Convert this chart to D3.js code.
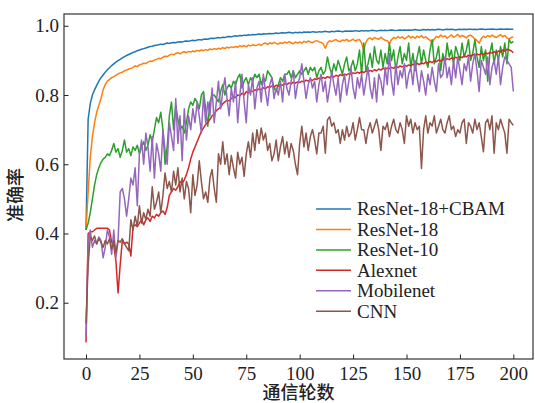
<!DOCTYPE html>
<html><head><meta charset="utf-8">
<script src="https://cdn.jsdelivr.net/npm/d3@7"></script>
<style>body{margin:0;background:#fff}svg{display:block}</style>
</head><body>
<script>
const epochs = d3.range(0, 201);
const seriesNames = ["ResNet-18+CBAM","ResNet-18","ResNet-10","Alexnet","Mobilenet","CNN"];
const seriesColors = ["#1f77b4","#ff7f0e","#2ca02c","#d62728","#9467bd","#8c564b"];
const xTicks = [0,25,50,75,100,125,150,175,200];
const yTicks = [0.2,0.4,0.6,0.8,1.0];

const cbam = [
0.41,0.73,0.775,0.80,0.815,0.828,0.84,0.85,0.858,0.866,
0.873,0.879,0.885,0.89,0.895,0.899,0.903,0.907,0.911,0.914,
0.917,0.920,0.923,0.925,0.928,0.930,0.932,0.934,0.936,0.938,
0.940,0.941,0.943,0.944,0.945,0.947,0.946,0.948,0.950,0.949,
0.951,0.952,0.951,0.953,0.954,0.953,0.955,0.956,0.955,0.957,
0.958,0.957,0.959,0.960,0.959,0.961,0.962,0.961,0.963,0.964,
0.963,0.965,0.966,0.965,0.967,0.966,0.968,0.969,0.968,0.970,
0.971,0.970,0.972,0.971,0.973,0.972,0.974,0.973,0.975,0.974,
0.975,0.976,0.975,0.977,0.976,0.977,0.978,0.977,0.978,0.979,
0.978,0.979,0.980,0.979,0.980,0.981,0.980,0.979,0.981,0.980,
0.981,0.980,0.982,0.981,0.982,0.981,0.983,0.982,0.981,0.983,
0.982,0.983,0.984,0.983,0.982,0.984,0.983,0.984,0.985,0.984,
0.983,0.984,0.985,0.984,0.985,0.984,0.986,0.985,0.984,0.986,
0.985,0.986,0.985,0.986,0.987,0.986,0.985,0.986,0.987,0.986,
0.987,0.986,0.987,0.988,0.987,0.986,0.987,0.988,0.987,0.988,
0.987,0.988,0.987,0.988,0.989,0.988,0.987,0.988,0.989,0.988,
0.989,0.988,0.989,0.988,0.989,0.990,0.989,0.988,0.989,0.990,
0.989,0.990,0.989,0.988,0.989,0.990,0.989,0.990,0.989,0.990,
0.990,0.989,0.990,0.989,0.990,0.991,0.990,0.989,0.990,0.990,
0.991,0.990,0.989,0.990,0.991,0.990,0.990,0.991,0.990,0.990,
0.990];

const resnet18 = [
0.41,0.52,0.62,0.68,0.72,0.75,0.77,0.79,0.815,0.83,
0.84,0.845,0.85,0.853,0.857,0.861,0.864,0.866,0.87,0.872,
0.875,0.877,0.88,0.884,0.882,0.887,0.889,0.892,0.891,0.895,
0.898,0.897,0.901,0.903,0.906,0.905,0.909,0.912,0.911,0.915,
0.918,0.916,0.92,0.922,0.919,0.923,0.925,0.922,0.926,0.924,
0.927,0.925,0.929,0.927,0.93,0.928,0.931,0.929,0.933,0.931,
0.934,0.932,0.935,0.933,0.937,0.934,0.938,0.936,0.939,0.937,
0.940,0.938,0.942,0.94,0.943,0.939,0.944,0.942,0.945,0.943,
0.944,0.947,0.943,0.948,0.950,0.946,0.951,0.948,0.952,0.949,
0.947,0.951,0.949,0.953,0.950,0.954,0.951,0.948,0.953,0.950,
0.953,0.950,0.955,0.952,0.956,0.953,0.951,0.955,0.957,0.954,
0.952,0.948,0.935,0.950,0.957,0.954,0.958,0.960,0.956,0.954,
0.959,0.957,0.961,0.955,0.958,0.961,0.956,0.959,0.960,0.950,
0.929,0.952,0.962,0.965,0.960,0.966,0.963,0.961,0.967,0.962,
0.958,0.957,0.948,0.960,0.966,0.963,0.969,0.964,0.968,0.962,
0.966,0.971,0.965,0.969,0.964,0.970,0.966,0.972,0.965,0.968,
0.963,0.958,0.950,0.962,0.969,0.966,0.973,0.968,0.971,0.964,
0.969,0.974,0.967,0.970,0.975,0.968,0.972,0.969,0.965,0.971,
0.973,0.968,0.962,0.957,0.950,0.963,0.970,0.966,0.972,0.968,
0.973,0.969,0.966,0.971,0.974,0.968,0.972,0.965,0.962,0.966,
0.968];

const resnet10 = [
0.41,0.43,0.46,0.50,0.54,0.57,0.59,0.605,0.615,0.62,
0.63,0.625,0.64,0.66,0.635,0.645,0.62,0.64,0.67,0.635,
0.645,0.625,0.65,0.64,0.655,0.63,0.65,0.665,0.64,0.655,
0.685,0.665,0.70,0.735,0.72,0.75,0.70,0.60,0.65,0.74,
0.78,0.70,0.77,0.73,0.70,0.71,0.69,0.72,0.76,0.78,
0.77,0.79,0.78,0.76,0.80,0.81,0.76,0.71,0.78,0.80,
0.80,0.79,0.78,0.81,0.83,0.80,0.82,0.83,0.82,0.84,
0.83,0.85,0.86,0.82,0.84,0.85,0.83,0.85,0.84,0.86,
0.85,0.86,0.83,0.85,0.84,0.87,0.86,0.85,0.82,0.81,
0.83,0.85,0.84,0.86,0.86,0.87,0.85,0.87,0.85,0.86,
0.87,0.86,0.87,0.88,0.86,0.88,0.87,0.88,0.85,0.87,
0.88,0.86,0.87,0.91,0.88,0.86,0.89,0.87,0.90,0.88,
0.86,0.89,0.91,0.87,0.88,0.90,0.87,0.89,0.93,0.86,
0.95,0.87,0.89,0.92,0.88,0.94,0.90,0.89,0.93,0.88,
0.92,0.89,0.95,0.90,0.93,0.87,0.91,0.94,0.89,0.92,
0.90,0.95,0.88,0.92,0.87,0.91,0.94,0.89,0.93,0.90,
0.88,0.93,0.96,0.89,0.91,0.94,0.87,0.92,0.89,0.95,
0.91,0.93,0.89,0.94,0.92,0.90,0.95,0.91,0.93,0.96,
0.90,0.92,0.96,0.91,0.88,0.94,0.90,0.93,0.84,0.92,
0.95,0.89,0.93,0.90,0.94,0.91,0.95,0.89,0.96,0.95,
0.955];

const alexnet = [
0.085,0.40,0.405,0.405,0.41,0.415,0.415,0.415,0.415,0.415,
0.415,0.41,0.375,0.365,0.32,0.228,0.31,0.38,0.37,0.375,
0.37,0.335,0.42,0.425,0.42,0.43,0.44,0.425,0.44,0.445,
0.435,0.45,0.445,0.455,0.45,0.46,0.465,0.455,0.475,0.51,
0.52,0.53,0.525,0.535,0.55,0.545,0.555,0.57,0.59,0.615,
0.635,0.65,0.665,0.68,0.695,0.705,0.715,0.72,0.73,0.74,
0.745,0.755,0.76,0.765,0.775,0.78,0.785,0.783,0.79,0.795,
0.793,0.80,0.798,0.805,0.80,0.81,0.806,0.812,0.81,0.815,
0.813,0.818,0.815,0.821,0.818,0.824,0.822,0.826,0.823,0.828,
0.826,0.83,0.828,0.833,0.83,0.835,0.832,0.837,0.834,0.838,
0.836,0.84,0.838,0.843,0.84,0.845,0.842,0.847,0.845,0.849,
0.846,0.851,0.848,0.853,0.85,0.855,0.852,0.857,0.854,0.859,
0.856,0.86,0.858,0.862,0.86,0.864,0.862,0.866,0.863,0.868,
0.865,0.869,0.867,0.871,0.868,0.873,0.87,0.875,0.872,0.877,
0.874,0.878,0.876,0.88,0.877,0.882,0.879,0.884,0.881,0.885,
0.883,0.887,0.884,0.889,0.886,0.891,0.888,0.893,0.89,0.895,
0.892,0.897,0.894,0.899,0.896,0.901,0.898,0.903,0.9,0.905,
0.902,0.907,0.904,0.909,0.906,0.911,0.908,0.913,0.91,0.915,
0.912,0.917,0.914,0.918,0.916,0.92,0.917,0.922,0.919,0.923,
0.921,0.925,0.922,0.927,0.924,0.93,0.927,0.932,0.93,0.928,
0.922];

const mobilenet = [
0.10,0.37,0.41,0.36,0.38,0.37,0.39,0.38,0.33,0.36,
0.41,0.39,0.34,0.41,0.33,0.38,0.52,0.53,0.50,0.45,
0.50,0.56,0.54,0.59,0.48,0.63,0.67,0.60,0.69,0.65,
0.58,0.68,0.56,0.66,0.63,0.58,0.70,0.64,0.60,0.72,
0.68,0.64,0.79,0.66,0.74,0.61,0.76,0.67,0.74,0.70,
0.76,0.72,0.78,0.74,0.69,0.80,0.72,0.78,0.74,0.82,
0.72,0.78,0.84,0.76,0.81,0.85,0.79,0.74,0.82,0.78,
0.84,0.72,0.80,0.86,0.78,0.72,0.83,0.80,0.85,0.76,
0.82,0.84,0.78,0.86,0.81,0.77,0.83,0.85,0.79,0.82,
0.80,0.84,0.78,0.86,0.82,0.80,0.84,0.87,0.79,0.83,
0.85,0.89,0.84,0.79,0.83,0.85,0.82,0.84,0.78,0.83,
0.86,0.81,0.84,0.78,0.82,0.87,0.83,0.80,0.85,0.78,
0.83,0.86,0.80,0.84,0.88,0.82,0.79,0.85,0.82,0.86,
0.80,0.84,0.88,0.82,0.79,0.85,0.78,0.86,0.84,0.80,
0.88,0.83,0.92,0.84,0.80,0.89,0.83,0.87,0.85,0.89,
0.82,0.86,0.88,0.83,0.90,0.85,0.81,0.87,0.84,0.80,
0.86,0.83,0.88,0.84,0.81,0.89,0.85,0.86,0.91,0.85,
0.88,0.83,0.90,0.85,0.91,0.87,0.83,0.89,0.87,0.91,
0.84,0.89,0.92,0.87,0.81,0.90,0.88,0.86,0.91,0.83,
0.88,0.90,0.86,0.91,0.83,0.88,0.91,0.90,0.89,0.88,
0.81];

const cnn = [
0.14,0.31,0.39,0.38,0.393,0.37,0.385,0.375,0.36,0.38,
0.37,0.385,0.355,0.38,0.345,0.38,0.375,0.385,0.37,0.36,
0.35,0.44,0.41,0.45,0.42,0.48,0.43,0.46,0.44,0.47,
0.45,0.535,0.47,0.49,0.52,0.46,0.51,0.575,0.53,0.55,
0.52,0.58,0.54,0.59,0.52,0.56,0.50,0.55,0.53,0.46,
0.57,0.51,0.54,0.61,0.55,0.50,0.52,0.49,0.56,0.585,
0.53,0.49,0.63,0.60,0.665,0.60,0.63,0.57,0.625,0.59,
0.56,0.635,0.60,0.62,0.565,0.63,0.665,0.62,0.69,0.64,
0.70,0.66,0.705,0.67,0.69,0.64,0.66,0.61,0.63,0.67,
0.61,0.65,0.68,0.63,0.665,0.62,0.66,0.64,0.60,0.57,
0.66,0.71,0.65,0.69,0.64,0.68,0.70,0.67,0.63,0.69,
0.69,0.71,0.632,0.728,0.737,0.71,0.72,0.69,0.70,0.66,
0.70,0.67,0.71,0.68,0.69,0.72,0.67,0.70,0.735,0.70,
0.70,0.66,0.70,0.72,0.69,0.71,0.73,0.70,0.64,0.71,
0.70,0.72,0.68,0.71,0.73,0.70,0.69,0.72,0.70,0.66,
0.74,0.71,0.73,0.69,0.72,0.70,0.71,0.588,0.70,0.74,
0.69,0.72,0.71,0.74,0.69,0.71,0.73,0.70,0.69,0.72,
0.74,0.70,0.71,0.68,0.70,0.69,0.72,0.73,0.66,0.72,
0.71,0.69,0.73,0.70,0.72,0.68,0.636,0.72,0.73,0.70,
0.74,0.632,0.72,0.70,0.73,0.71,0.69,0.632,0.73,0.72,
0.713];

const seriesValues = [cbam, resnet18, resnet10, alexnet, mobilenet, cnn];

const W = 535, H = 403;
const L = 64, T = 14, R = 533, B = 359;
const svg = d3.select("body").append("svg").attr("width", W).attr("height", H);

const x = d3.scaleLinear().domain([-10.3, 209.2]).range([L, R]);
const y = d3.scaleLinear().domain([0.0375, 1.034]).range([B, T]);

const serif = "'Liberation Serif','Times New Roman',serif";

svg.append("defs").append("clipPath").attr("id","clip")
  .append("rect").attr("x", L).attr("y", T).attr("width", R-L).attr("height", B-T);

const line = d3.line().x((d,i)=>x(epochs[i])).y(d=>y(d));
const g = svg.append("g").attr("clip-path","url(#clip)");
seriesValues.forEach((vals, k) => {
  g.append("path").datum(vals).attr("d", line)
    .attr("fill","none").attr("stroke", seriesColors[k])
    .attr("stroke-width", 1.5).attr("stroke-linejoin","round");
});

const xAxis = svg.append("g").attr("transform", `translate(0,${B})`)
  .call(d3.axisBottom(x).tickValues(xTicks).tickSize(-4.5).tickPadding(8).tickFormat(d3.format("d")));
const yAxis = svg.append("g").attr("transform", `translate(${L},0)`)
  .call(d3.axisLeft(y).tickValues(yTicks).tickSize(-4.5).tickPadding(5).tickFormat(d3.format(".1f")));
[xAxis, yAxis].forEach(a => {
  a.select(".domain").remove();
  a.selectAll("line").attr("stroke","#222").attr("stroke-width",1);
  a.selectAll("text").attr("font-family", serif).attr("font-size", 19).attr("fill","#222");
});

svg.append("rect").attr("x", L).attr("y", T).attr("width", R-L).attr("height", B-T)
  .attr("fill","none").attr("stroke","#333").attr("stroke-width",1.2);

// legend
const legY = [209, 229.5, 250, 270.3, 290.7, 311.2];
seriesNames.forEach((name, k) => {
  svg.append("line").attr("x1", 316).attr("x2", 351).attr("y1", legY[k]).attr("y2", legY[k])
    .attr("stroke", seriesColors[k]).attr("stroke-width", 1.5);
  svg.append("text").attr("x", 357).attr("y", legY[k]).attr("dy", "0.34em")
    .attr("font-family", serif).attr("font-size", 19).attr("fill","#222").text(name);
});

const cjk = "'Noto Sans CJK SC','Noto Sans',sans-serif";
svg.append("text").attr("x", (L+R)/2).attr("y", 399)
  .attr("text-anchor","middle").attr("font-family", cjk).attr("font-size", 18)
  .attr("font-weight", 500).attr("fill","#222").text("通信轮数");
svg.append("text").attr("transform", "translate(22,195) rotate(-90)")
  .attr("text-anchor","middle").attr("font-family", cjk).attr("font-size", 18)
  .attr("font-weight", 500).attr("fill","#222").text("准确率");
</script>
</body></html>
